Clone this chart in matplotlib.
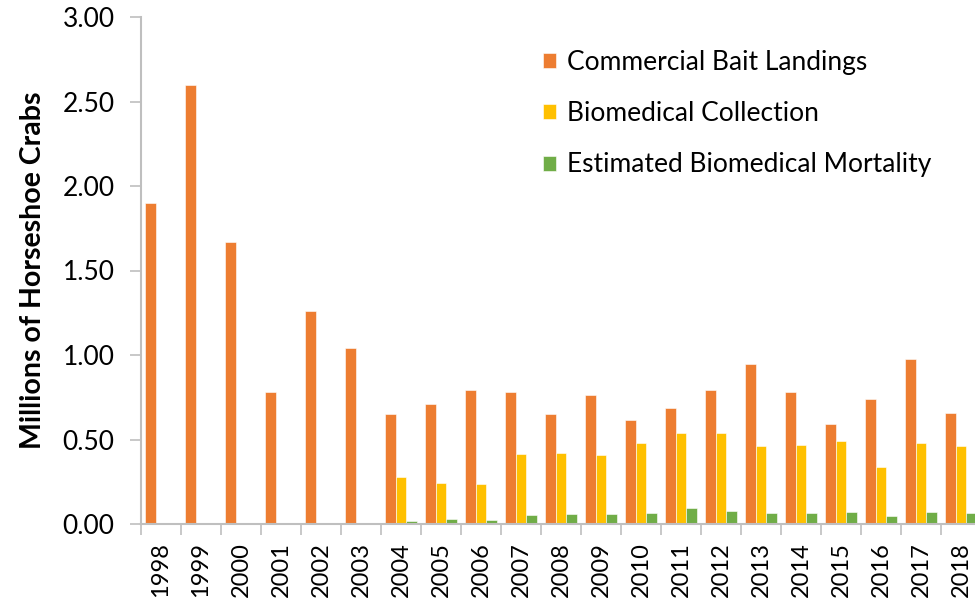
import matplotlib
matplotlib.use("Agg")
import matplotlib.pyplot as plt
import numpy as np

# Data (millions of horseshoe crabs)
years = [str(y) for y in range(1998, 2019)]
bait_landings = [1.90, 2.60, 1.67, 0.78, 1.26, 1.04, 0.653, 0.71, 0.795, 0.783,
                 0.65, 0.761, 0.615, 0.688, 0.793, 0.948, 0.783, 0.593, 0.74, 0.976, 0.657]
biomed_collection = [0, 0, 0, 0, 0, 0, 0.28, 0.244, 0.234, 0.414,
                     0.42, 0.41, 0.477, 0.54, 0.538, 0.462, 0.466, 0.49, 0.339, 0.479, 0.462]
biomed_mortality = [0, 0, 0, 0, 0, 0, 0.02, 0.03, 0.025, 0.055,
                    0.061, 0.059, 0.065, 0.094, 0.077, 0.067, 0.065, 0.071, 0.045, 0.07, 0.067]

series_names = ['Commercial Bait Landings', 'Biomedical Collection',
                'Estimated Biomedical Mortality']
colors = ['#ED7D31', '#FFC000', '#70AD47']

plt.rcParams['font.family'] = ['Lato', 'DejaVu Sans']
axis_grey = '#BFBFBF'
fs = 19

fig = plt.figure(figsize=(9.75, 6.04), dpi=100)
# axes run a bit past the right edge, like the cropped original
ax = fig.add_axes([141 / 975, 80 / 604, 840 / 975, 507 / 604])

x = np.arange(len(years))
w = 0.267
for k, vals in enumerate([bait_landings, biomed_collection, biomed_mortality]):
    ax.bar(x + (k - 1) * w, vals, width=w, color=colors[k],
           edgecolor='white', linewidth=0.4, label=series_names[k], zorder=2)

ax.set_xlim(-0.5, len(years) - 0.5)
ax.set_ylim(0, 3.0)
ax.set_yticks(np.arange(0, 3.01, 0.5))
ax.set_yticklabels(['%.2f' % v for v in np.arange(0, 3.01, 0.5)], fontsize=fs)

ax.set_xticks(x)
ax.set_xticklabels(years, rotation=90, fontsize=17)
ax.set_xticks(np.arange(-0.5, len(years), 1), minor=True)
ax.tick_params(axis='x', which='major', length=0, pad=13)
ax.tick_params(axis='x', which='minor', length=8, color=axis_grey, width=1.2)
ax.tick_params(axis='y', length=8, color=axis_grey, width=1.2, pad=11)

for side in ['top', 'right']:
    ax.spines[side].set_visible(False)
for side in ['left', 'bottom']:
    ax.spines[side].set_color(axis_grey)
    ax.spines[side].set_linewidth(1.5)

ax.set_ylabel('Millions of Horseshoe Crabs', fontsize=20.5, fontweight='bold', labelpad=12)

ax.legend(loc='upper left', bbox_to_anchor=(530 / 975, 1 - 37 / 604),
          bbox_transform=fig.transFigure, frameon=False, fontsize=fs,
          handlelength=0.5, handleheight=0.5, handletextpad=0.4,
          labelspacing=0.99, borderpad=0)

fig.savefig('out.png', dpi=100)
